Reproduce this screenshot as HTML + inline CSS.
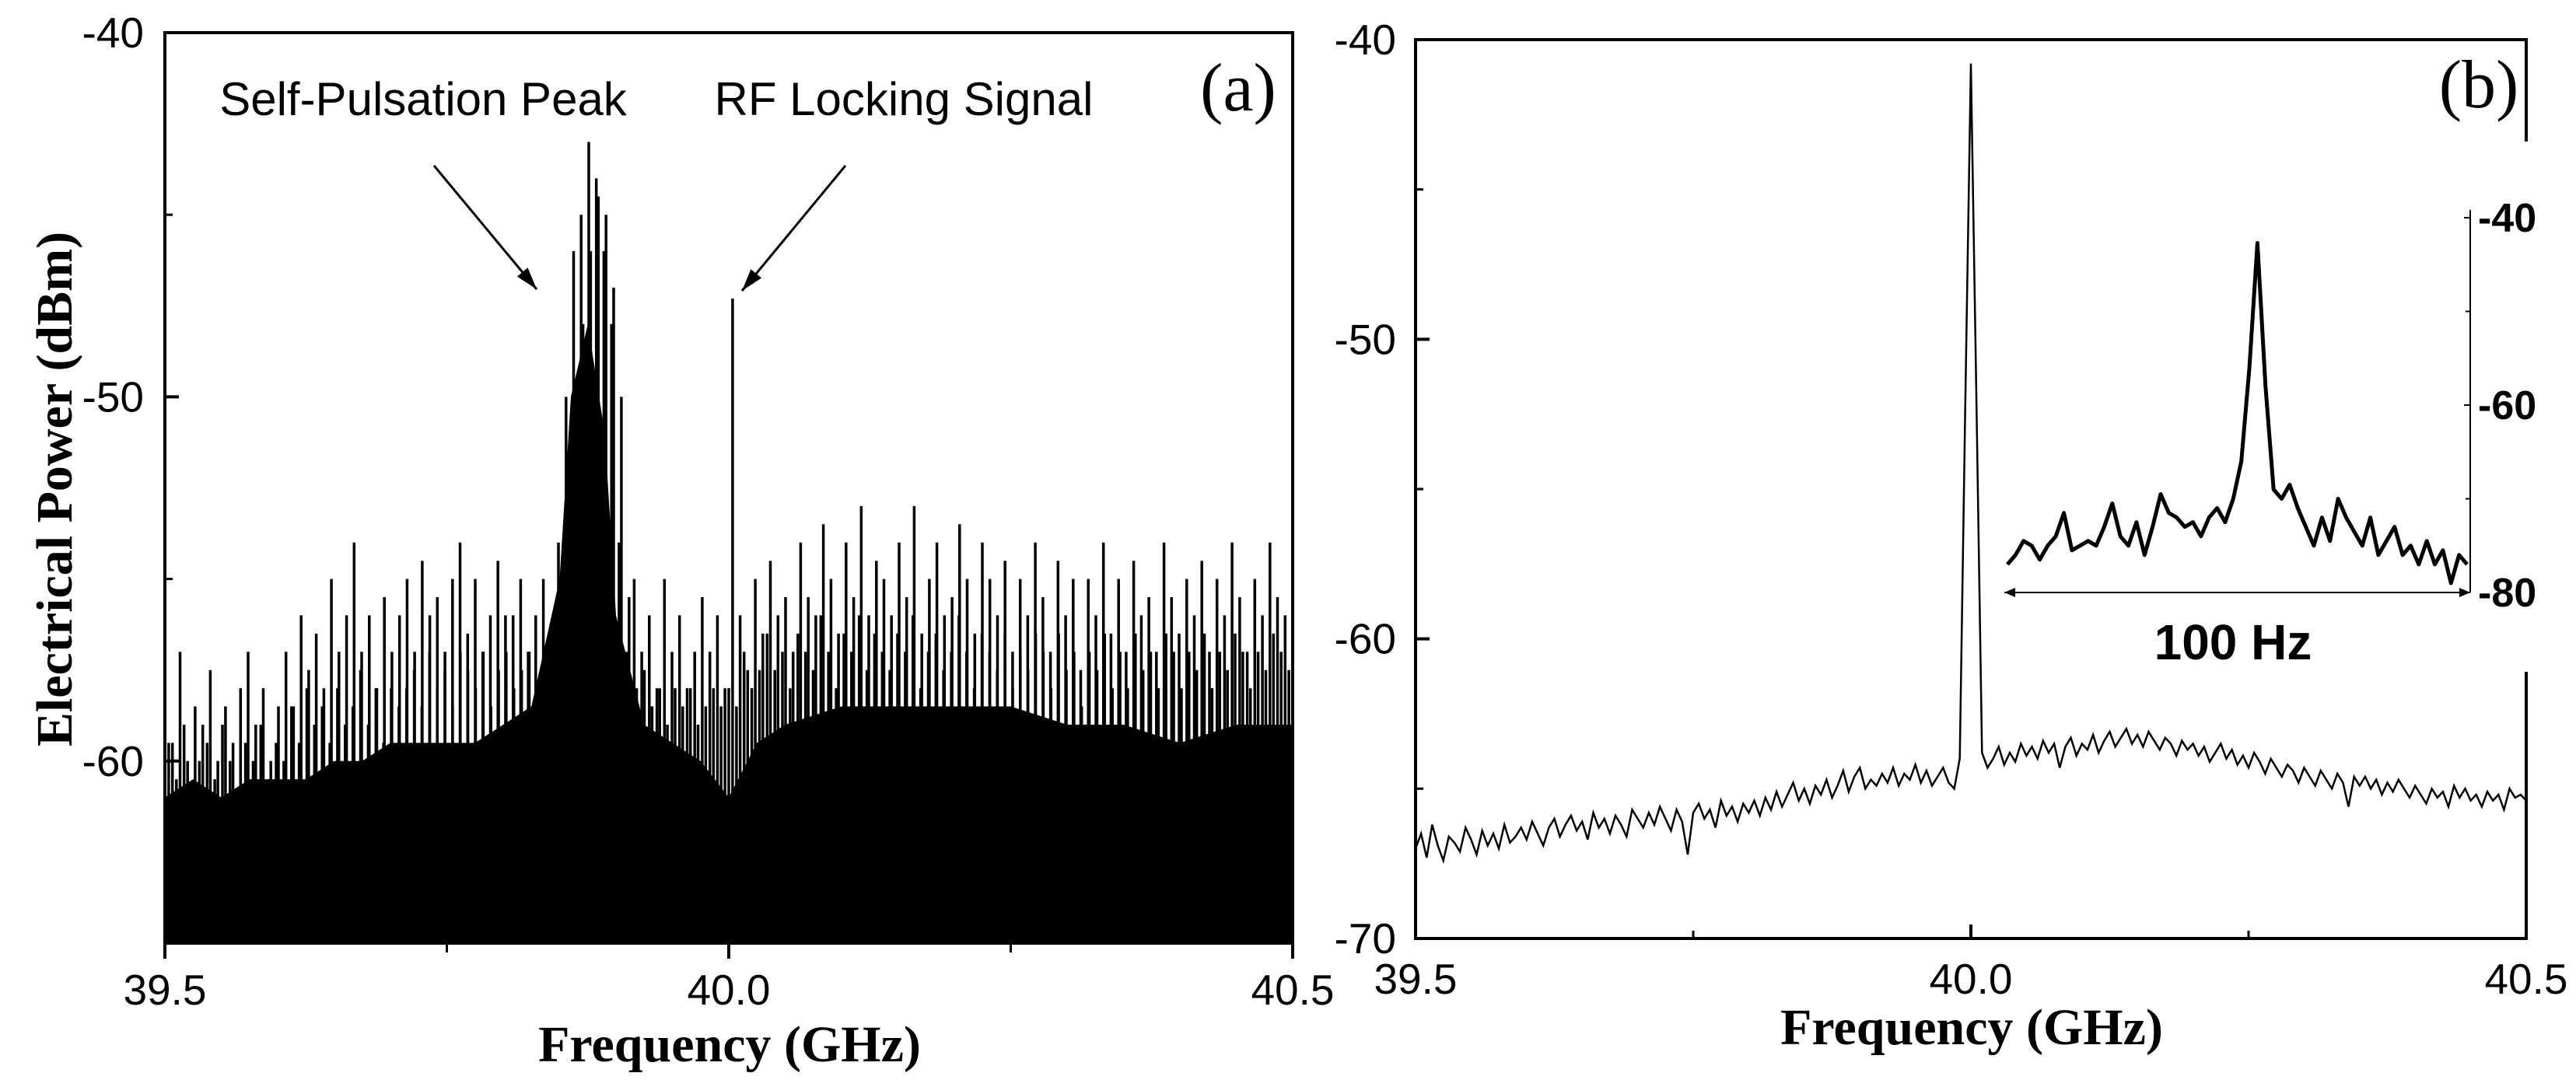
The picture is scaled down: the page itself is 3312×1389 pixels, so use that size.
<!DOCTYPE html>
<html><head><meta charset="utf-8"><style>
html,body{margin:0;padding:0;background:#fff;}
svg{display:block;}
.tk{font-family:"Liberation Sans",sans-serif;font-size:55px;fill:#000;}
.ttl{font-family:"Liberation Serif",serif;font-weight:bold;font-size:66px;fill:#000;}
</style></head><body>
<svg id="fig" width="3312" height="1389" viewBox="0 0 3312 1389" xmlns="http://www.w3.org/2000/svg">
<g id="pa"></g>
<g id="pb"></g>
</svg>
<script>
// ---------- Panel (a) data ----------
const tipsA = [-58,-59.5,-57,-60,-58.5,-59,-57.5,-60,-58.5,-59.5,-58,-57,-59,-58,-60,-58.5,
-57,-58.5,-56,-57.5,-56.5,-58,-55,-57,-56,-54,-57,-56,-58,-55.5,-57,
-56,-55,-57,-54.5,-56,-55.5,-57,-55,-54,-56.5,-55,-57,-56,-54.5,-56,
-56,-55,-57,-56,-55,-57,-54,-50,-46,-45,
-43,-44,-46,-48,-54,-57,-55,
-57,-56,-58,-55,-57,-56,-58,-57,-55.5,-57,-56,-58,
-47.3,
-56,-57.5,-55,-56.5,-54.5,-56,-55.5,-57,-54,-55.5,-56,-53.5,-55,-56.5,-54,-55.5,-53,-56,-54.5,-55,
-56,-54,-55.5,-53,-56.5,-55,-54,-56,-55.5,-53.5,-55,-56.5,-54,-55,-56,-54.5,-57,-55,-56,-54,
-55.5,-57,-54.5,-56,-55,-57.5,-55,-56,-54,-56.5,-55,-57,-54.5,-56,-55.5,-57,-54,-55.5,-56.5,-55,
-56,-54.5,-57,-55,-56,-54,-55.5,-57,-55,-56,-54,-55.5,-56,-54.5];
const tipsA2 = [-59.5,-60.5,-59,-61,-60,-59.5,-60.5,-59,-60,-61,-59.5,-60,-59,-60.5,-59.5,-60,
-58.5,-59.5,-58,-59,-58.5,-59.5,-58,-59,-58.5,-57.5,-59,-58,-59.5,-58,-58.5,
-58,-57.5,-58.5,-57,-58,-57.5,-58.5,-57,-57.5,-58,-57,-58.5,-57.5,-57,-58,
-57.5,-57,-58,-57.5,-56.5,-57.5,-55,-51,-48,-46,
-44.5,-45,-47,-50,-55.5,-58,-57.5,
-58.5,-58,-59,-58,-58.5,-58,-59,-58.5,-58,-58.5,-58,
-58.5,-57,-58,-57.5,-56.5,-57.5,-57,-58,-56.5,-57,-57.5,-56,-57,-58,-56.5,-57,-56,-57.5,-56.5,-57,
-57.5,-56.5,-57,-56,-58,-57,-56.5,-57.5,-57,-56,-57,-58,-56.5,-57,-57.5,-56.5,-58,-57,-57.5,-56.5,
-57,-58,-56.5,-57.5,-57,-58.5,-57,-57.5,-56.5,-58,-57,-58,-56.5,-57.5,-57,-58,-56.5,-57,-58,-57,
-57.5,-56.5,-58,-57,-57.5,-56.5,-57,-58,-57,-57.5,-56.5,-57,-57.5];
const solidF = [39.5,39.525,39.55,39.575,39.6,39.625,39.65,39.675,39.7,39.725,39.75,39.775,39.8,39.825,39.85,39.86,39.875,39.89,39.9,39.925,39.95,39.975,40.0,40.025,40.05,40.1,40.15,40.2,40.25,40.3,40.35,40.4,40.45,40.5];
const solidV = [-61,-60.5,-61,-60.5,-60.5,-60.5,-60,-60,-59.5,-59.5,-59.5,-59.5,-59,-58.5,-55,-50,-48,-51,-56,-59,-59.5,-60,-61,-59.5,-59,-58.5,-58.5,-58.5,-58.5,-59,-59,-59.5,-59,-59];
const yTicksA = [-40,-50,-60];
const xTicks = [39.5,40.0,40.5];

// ---------- Panel (b) data ----------
const specB = [-67.0,-66.5,-67.3,-66.2,-66.9,-67.4,-66.6,-66.8,-67.1,-66.3,-66.7,-67.2,-66.4,-66.9,-66.5,-67.0,-66.2,-66.8,-66.6,-66.3,
-66.7,-66.1,-66.5,-66.9,-66.3,-66.0,-66.6,-66.2,-65.9,-66.4,-66.1,-66.7,-65.8,-66.3,-66.0,-66.5,-65.9,-66.2,-66.6,-65.7,
-66.0,-66.3,-65.8,-66.2,-65.6,-66.0,-66.4,-65.7,-66.1,-67.2,-65.8,-65.5,-66.0,-65.7,-66.3,-65.4,-65.9,-65.6,-66.1,-65.5,
-65.8,-65.4,-65.9,-65.3,-65.7,-65.1,-65.6,-65.2,-64.8,-65.4,-65.0,-65.5,-64.9,-65.2,-64.7,-65.3,-64.9,-64.4,-65.1,-64.6,
-64.3,-65.0,-64.7,-64.9,-64.5,-64.8,-64.3,-64.9,-64.5,-64.7,-64.2,-64.8,-64.4,-64.9,-64.6,-64.3,-64.8,-65.0,-64.0,-52.0,
-40.8,-52.0,-63.8,
-64.3,-64.0,-63.6,-64.2,-63.8,-64.1,-63.5,-63.9,-63.6,-64.0,-63.4,-63.8,-63.5,-64.3,-63.6,-63.3,-63.9,-63.5,-63.7,-63.2,-63.8,-63.4,-63.1,-63.6,-63.3,-63.0,-63.5,-63.2,-63.6,-63.1,-63.4,-63.7,-63.3,-63.5,-63.9,-63.4,-63.7,
-63.5,-63.9,-63.6,-64.1,-63.8,-63.5,-64.0,-63.7,-64.2,-63.9,-64.3,-63.8,-64.1,-64.5,-64.0,-64.3,-64.6,-64.2,-64.4,-64.8,-64.3,-64.6,-64.9,-64.4,-64.7,-65.0,-64.5,-64.8,-65.6,-64.6,
-64.9,-64.6,-65.0,-64.7,-65.2,-64.8,-65.1,-64.7,-65.0,-65.3,-64.9,-65.2,-65.5,-65.0,-65.3,-65.1,-65.6,-64.9,-65.3,-65.0,-65.4,-65.2,-65.6,-65.1,-65.4,-65.2,-65.7,-65.0,-65.3,-65.2,-65.4];
const yTicksB = [-40,-50,-60,-70];
const insetV = [-77,-76,-74.5,-75,-76.5,-75,-74,-71.5,-75.5,-75,-74.5,-75,-73,-70.5,-74,-75,-72.5,-76,-73,-69.5,-71.5,-72,-73,-72.5,-74,-72,-71,-72.5,-70,-66,-56,-42.7,-58,-69,-70,-68.5,-71,-73,-75,-72,-74.5,-70,-72,-73.5,-75,-72,-76,-74.5,-73,-76,-75,-77,-74.5,-77,-75.5,-79,-76,-77];
const insetTicks = [-40,-60,-80];

const NS = "http://www.w3.org/2000/svg";
function mk(parent, tag, attrs, text){
  const e = document.createElementNS(NS, tag);
  for (const k in attrs) e.setAttribute(k, attrs[k]);
  if (text !== undefined) e.textContent = text;
  parent.appendChild(e); return e;
}

// ---------- Panel (a) ----------
(function(){
  const g = document.getElementById('pa');
  const L=212,R=1662,T=42,B=1213, y0=-65,y1=-40, f0=39.5,f1=40.5;
  const X = f => L + (f-f0)/(f1-f0)*(R-L);
  const Y = v => B - (v-y0)/(y1-y0)*(B-T);
  let d = `M${X(solidF[0])},${B}`;
  solidF.forEach((f,i)=>{ d += ` L${X(f).toFixed(1)},${Y(solidV[i]).toFixed(1)}`; });
  d += ` L${X(solidF[solidF.length-1])},${B} Z`;
  const area = mk(g,'path',{d:d,fill:'#000'});
  
  
  const n = tipsA.length;
  tipsA.forEach((v,i)=>{
    const f = f0 + i*(f1-f0)/(n-1);
    const ln = mk(g,'line',{x1:X(f).toFixed(1),x2:X(f).toFixed(1),y1:B,y2:Y(v).toFixed(1),stroke:'#000','stroke-width':3.5});
    
    
  });
  const n2 = tipsA2.length;
  tipsA2.forEach((v,i)=>{
    const f = f0 + (i+0.5)*(f1-f0)/(n2);
    const ln = mk(g,'line',{x1:X(f).toFixed(1),x2:X(f).toFixed(1),y1:B,y2:Y(v).toFixed(1),stroke:'#000','stroke-width':3.5});
    
    
  });
  const fr = mk(g,'rect',{x:L,y:T,width:R-L,height:B-T,fill:'none',stroke:'#000','stroke-width':4});
  
  
  yTicksA.forEach(v=>{
    mk(g,'line',{x1:L,x2:L+18,y1:Y(v),y2:Y(v),stroke:'#000','stroke-width':4});
    const t = mk(g,'text',{x:185,y:Y(v)+19,'text-anchor':'end',class:'tk'},String(v));
    
    
  });
  [-45,-55].forEach(v=>mk(g,'line',{x1:L,x2:L+10,y1:Y(v),y2:Y(v),stroke:'#000','stroke-width':3}));
  xTicks.forEach(f=>{
    mk(g,'line',{x1:X(f),x2:X(f),y1:B,y2:B+20,stroke:'#000','stroke-width':4});
    const t = mk(g,'text',{x:X(f),y:1292,'text-anchor':'middle',class:'tk'},f.toFixed(1));
    
    
  });
  [39.75,40.25].forEach(f=>mk(g,'line',{x1:X(f),x2:X(f),y1:B,y2:B+12,stroke:'#000','stroke-width':3}));
  const xt = mk(g,'text',{x:938,y:1365,'text-anchor':'middle',class:'ttl'},'Frequency (GHz)');
  
  
  const yt = mk(g,'text',{x:0,y:0,'text-anchor':'middle',class:'ttl',transform:'translate(92,629) rotate(-90)'},'Electrical Power (dBm)');
  
  
  const pl = mk(g,'text',{x:1592,y:142,'text-anchor':'middle',class:'ttl',style:'font-weight:normal;font-size:88px'},'(a)');
  
  
  const a1 = mk(g,'text',{x:544,y:148,'text-anchor':'middle',class:'tk',style:'font-size:60px'},'Self-Pulsation Peak');
  
  
  const a2 = mk(g,'text',{x:1162,y:148,'text-anchor':'middle',class:'tk',style:'font-size:60px'},'RF Locking Signal');
  
  
  function arrow(x1,y1,x2,y2,name){
    const ar = mk(g,'g',{});
    
    
    mk(ar,'line',{x1:x1,y1:y1,x2:x2,y2:y2,stroke:'#000','stroke-width':3});
    const ang=Math.atan2(y2-y1,x2-x1), s=30, w=0.3;
    const p1=[x2-s*Math.cos(ang-w),y2-s*Math.sin(ang-w)], p2=[x2-s*Math.cos(ang+w),y2-s*Math.sin(ang+w)];
    mk(ar,'polygon',{points:`${x2},${y2} ${p1[0]},${p1[1]} ${p2[0]},${p2[1]}`,fill:'#000'});
  }
  arrow(558,213,690,372,'self-pulsation-arrow');
  arrow(1087,213,954,374,'rf-locking-arrow');
})();

// ---------- Panel (b) ----------
(function(){
  const g = document.getElementById('pb');
  const L=1820,R=3248,T=51,B=1207, y0=-70,y1=-40, f0=39.5,f1=40.5;
  const X = f => L + (f-f0)/(f1-f0)*(R-L);
  const Y = v => B - (v-y0)/(y1-y0)*(B-T);
  const n = specB.length;
  let d='';
  specB.forEach((v,i)=>{ const f=f0+i*(f1-f0)/(n-1); d += (i?' L':'M')+X(f).toFixed(1)+','+Y(v).toFixed(1); });
  const ln = mk(g,'path',{d:d,fill:'none',stroke:'#000','stroke-width':2.5});
  
  
  const fr = mk(g,'rect',{x:L,y:T,width:R-L,height:B-T,fill:'none',stroke:'#000','stroke-width':4});
  
  
  yTicksB.forEach(v=>{
    mk(g,'line',{x1:L,x2:L+18,y1:Y(v),y2:Y(v),stroke:'#000','stroke-width':4});
    const t = mk(g,'text',{x:1795,y:Y(v)+19,'text-anchor':'end',class:'tk'},String(v));
    
    
  });
  [-45,-55,-65].forEach(v=>mk(g,'line',{x1:L,x2:L+10,y1:Y(v),y2:Y(v),stroke:'#000','stroke-width':3}));
  xTicks.forEach(f=>{
    mk(g,'line',{x1:X(f),x2:X(f),y1:B,y2:B-18,stroke:'#000','stroke-width':4});
    const t = mk(g,'text',{x:X(f),y:1278,'text-anchor':'middle',class:'tk'},f.toFixed(1));
    
    
  });
  [39.75,40.25].forEach(f=>mk(g,'line',{x1:X(f),x2:X(f),y1:B,y2:B-10,stroke:'#000','stroke-width':3}));
  const xt = mk(g,'text',{x:2535,y:1343,'text-anchor':'middle',class:'ttl'},'Frequency (GHz)');
  
  
  const pl = mk(g,'text',{x:3187,y:138,'text-anchor':'middle',class:'ttl',style:'font-weight:normal;font-size:88px'},'(b)');
  
  

  const ig = mk(g,'g',{});
  
  
  mk(ig,'rect',{x:2560,y:182,width:752,height:682,fill:'#fff'});
  const iL=2577,iR=3176,iT=280,iB=762, iy0=-80, iy1=-40;
  const IX = i => iL+4 + i/(insetV.length-1)*(iR-iL-8);
  const IY = v => iB - (v-iy0)/(iy1-iy0)*(iB-iT);
  let di='';
  insetV.forEach((v,i)=>{ di += (i?' L':'M')+IX(i).toFixed(1)+','+IY(v).toFixed(1); });
  const il = mk(ig,'path',{d:di,fill:'none',stroke:'#000','stroke-width':5,'stroke-linejoin':'round'});
  
  
  mk(ig,'line',{x1:iR,x2:iR,y1:iT-10,y2:iB,stroke:'#000','stroke-width':2});
  const ax = mk(ig,'g',{});
  
  
  mk(ax,'line',{x1:iL,x2:iR,y1:iB,y2:iB,stroke:'#000','stroke-width':2});
  mk(ax,'polygon',{points:`${iL},${iB} ${iL+14},${iB-6} ${iL+14},${iB+6}`,fill:'#000'});
  mk(ax,'polygon',{points:`${iR},${iB} ${iR-14},${iB-6} ${iR-14},${iB+6}`,fill:'#000'});
  insetTicks.forEach(v=>{
    mk(ig,'line',{x1:iR,x2:iR-8,y1:IY(v),y2:IY(v),stroke:'#000','stroke-width':2});
    const t = mk(ig,'text',{x:iR+10,y:IY(v)+18,class:'tk',style:'font-weight:bold;font-size:52px'},String(v));
    
    
  });
  [-50,-70].forEach(v=>mk(ig,'line',{x1:iR,x2:iR-6,y1:IY(v),y2:IY(v),stroke:'#000','stroke-width':2}));
  const hz = mk(ig,'text',{x:2871,y:848,'text-anchor':'middle',class:'tk',style:'font-weight:bold;font-size:64px'},'100 Hz');
  
  
})();
</script>
</body></html>
